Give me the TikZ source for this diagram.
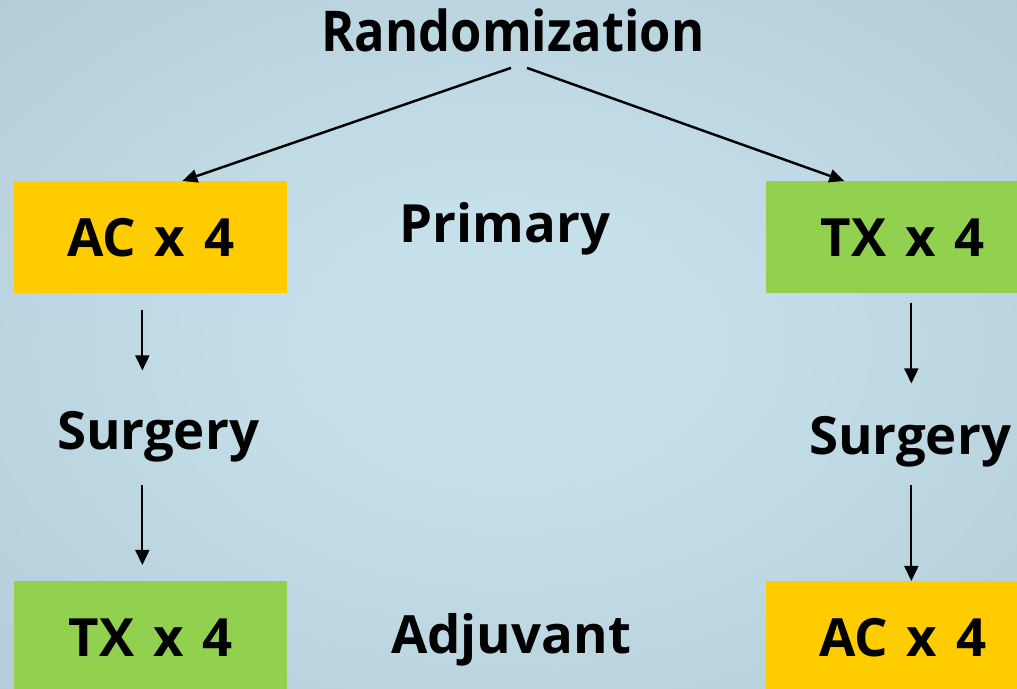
\documentclass[tikz,border=0pt]{standalone}
\usepackage{fontspec}
\setmainfont{Open Sans}
\usetikzlibrary{positioning,arrows.meta}

\definecolor{bgin}{HTML}{C5E0EB}
\definecolor{bgout}{HTML}{9CB2BF}
\definecolor{acyellow}{HTML}{FFCC00}
\definecolor{txgreen}{HTML}{92D050}
\pgfdeclareradialshading{slidebg}{\pgfpoint{0bp}{0bp}}{color(0bp)=(bgin); color(10bp)=(bgin); color(72bp)=(bgout)}
\newcommand\armfont{\fontsize{30}{36}\selectfont\bfseries\spaceskip=0.36em\relax}

\begin{document}
\begin{tikzpicture}[
    armbox/.style={rectangle, anchor=north west, minimum width=5.46cm, minimum height=2.24cm, inner sep=0pt, font=\armfont},
    phase/.style={anchor=base, inner sep=0pt, font=\fontsize{30}{36}\selectfont\bfseries},
    arrow/.style={-{Triangle[length=0.3cm, width=0.28cm]}, line width=1pt},
    split/.style={-{Triangle[length=0.3cm, width=0.26cm]}, line width=1.4pt}
]

% Slide background
\useasboundingbox (0,0) rectangle (20.34,-13.78);
\shade[shading=slidebg] (0,0) rectangle (20.34,-13.78);
\clip (0,0) rectangle (20.34,-13.78);

% Title
\node[phase, inner sep=0.3cm, font=\fontsize{32}{38}\selectfont\bfseries] (rand) at (10.26,-1.04) {\scalebox{0.9}[1]{Randomization}};

% Treatment boxes
\node[armbox, fill=acyellow] (actop) at (0.28,-3.62) {AC x 4};
\node[armbox, fill=txgreen] (txtop) at (15.32,-3.62) {TX x 4};
\node[armbox, fill=txgreen] (txbot) at (0.28,-11.62) {TX x 4};
\node[armbox, fill=acyellow] (acbot) at (15.32,-11.62) {AC x 4};

% Phase labels
\node[phase] (primary) at (10.1,-4.86) {Primary};
\node[phase] (adjuvant) at (10.22,-13.08) {Adjuvant};
\node[phase] (surgL) at (3.16,-9.0) {Surgery};
\node[phase] (surgR) at (18.2,-9.1) {Surgery};

% Split arrows
\draw[split] ([xshift=-0.04cm]rand.south) -- ([xshift=0.63cm]actop.north);
\draw[split] ([xshift=0.28cm]rand.south) -- ([xshift=-1.17cm]txtop.north);

% Left column
\coordinate (colL) at ([xshift=-0.17cm]actop.south);
\draw[arrow, shorten <=0.32cm, shorten >=0.82cm] (colL) -- (colL |- surgL.north);
\draw[arrow, shorten <=0.44cm, shorten >=0.32cm] (colL |- surgL.south) -- (colL |- txbot.north);

% Right column
\coordinate (colR) at ([xshift=0.17cm]txtop.south);
\draw[arrow, shorten <=0.18cm, shorten >=0.66cm] (colR) -- (colR |- surgR.north);
\draw[arrow, shorten <=0.34cm] (colR |- surgR.south) -- (colR |- acbot.north);

\end{tikzpicture}
\end{document}
